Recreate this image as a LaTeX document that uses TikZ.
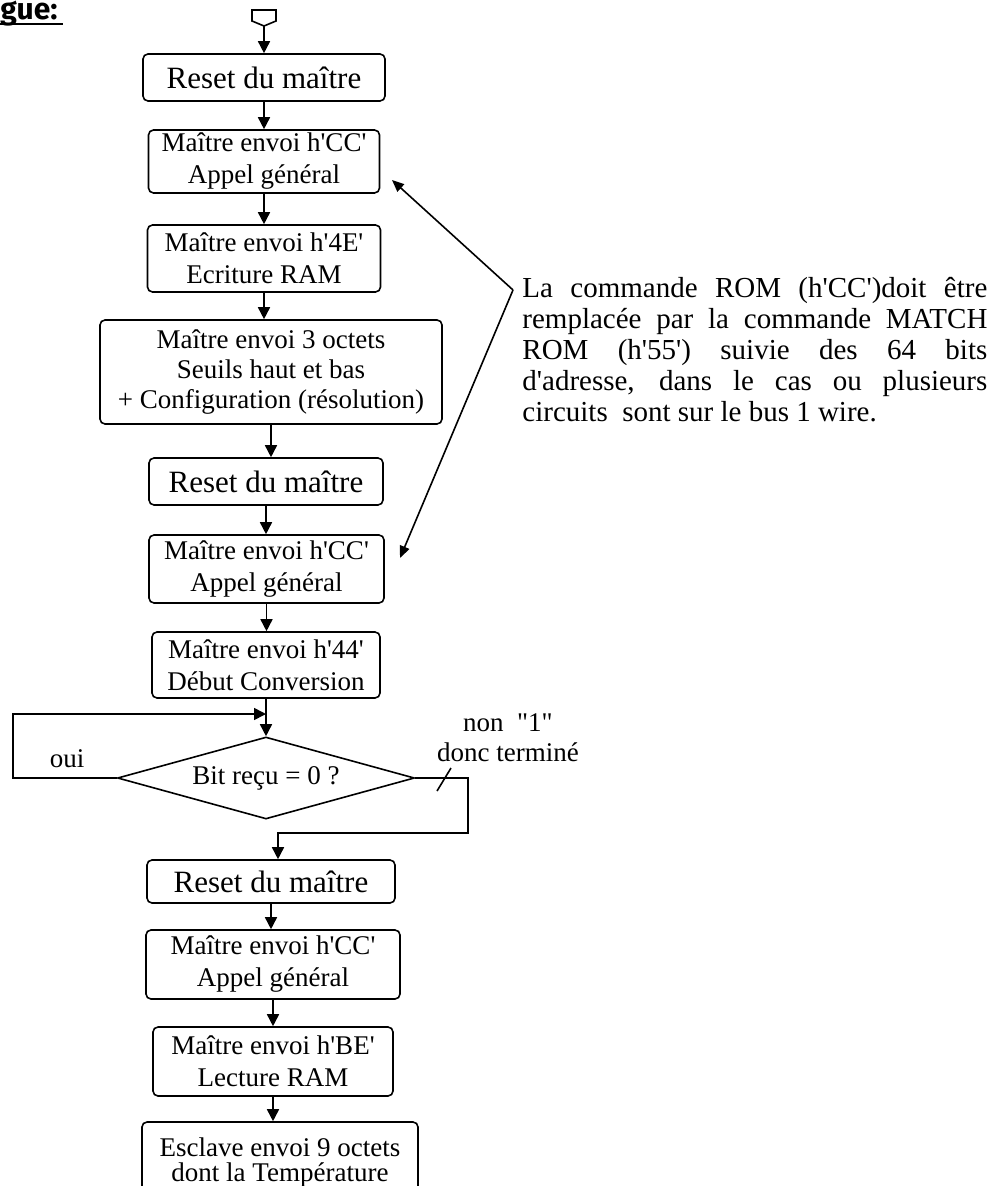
\documentclass[tikz,border=0pt]{standalone}
\usepackage{fontspec}
\setmainfont{Liberation Serif}[Ligatures=TeXOff]
\newfontfamily\titlefont{Fira Sans}
\usetikzlibrary{shapes.geometric,arrows.meta}

\begin{document}
\begin{tikzpicture}[x=0.5pt,y=-0.5pt]
        \useasboundingbox (0,0) rectangle (994,1186);
        \clip (0,0) rectangle (994,1186);

        \node[anchor=base west, inner sep=0pt, font=\titlefont\bfseries\fontsize{15}{17}\selectfont] (G) at (0,20) {gue:};
        \draw[line width=1.1pt] (0,24) -- (63,24);

        % depart
        \draw[line width=0.8pt] (252,10) -- (276,10) -- (276,21) -- (264,26) -- (252,21) -- cycle;
        \coordinate (S) at (264,26);

        \begin{scope}[every node/.style={draw, line width=0.8pt, rounded corners=2.5pt, align=center, inner sep=1pt, font=\fontsize{13.5}{16}\selectfont}]
                \node[minimum width=121pt, minimum height=23.5pt, font=\fontsize{15.5}{18}\selectfont] (R1) at (264,77.5) {Reset du maître};
                \node[minimum width=115.5pt, minimum height=31.5pt] (C1) at (264,161.5) {Maître envoi h'CC'\\Appel général};
                \node[minimum width=116.5pt, minimum height=33.5pt] (W1) at (264,258.5) {Maître envoi h'4E'\\Ecriture RAM};
                \node[minimum width=171pt, minimum height=52pt, font=\fontsize{13.5}{15}\selectfont] (O1) at (271,372) {Maître envoi 3 octets\\Seuils haut et bas\\+ Configuration (résolution)};
                \node[minimum width=117pt, minimum height=23.5pt, font=\fontsize{15.5}{18}\selectfont] (R2) at (266,481.5) {Reset du maître};
                \node[minimum width=117.5pt, minimum height=34pt] (C2) at (266.5,569) {Maître envoi h'CC'\\Appel général};
                \node[minimum width=114pt, minimum height=33pt] (D1) at (266,665) {Maître envoi h'44'\\Début Conversion};
                \node[diamond, aspect=3.6, sharp corners, inner sep=0pt, minimum width=148.5pt, minimum height=41pt] (B) at (266,778) {Bit reçu = 0 ?};
                \node[minimum width=124pt, minimum height=21.5pt, font=\fontsize{15.5}{18}\selectfont] (R3) at (271,881.5) {Reset du maître};
                \node[minimum width=127pt, minimum height=34.5pt] (C3) at (273,964.5) {Maître envoi h'CC'\\Appel général};
                \node[minimum width=120pt, minimum height=34.5pt] (L1) at (273,1061.5) {Maître envoi h'BE'\\Lecture RAM};
                \node[minimum width=138pt, minimum height=40pt, font=\fontsize{13.5}{12.5}\selectfont] (E1) at (280,1162) {Esclave envoi 9 octets\\dont la Température};
        \end{scope}

        \begin{scope}[every node/.style={inner sep=0pt, font=\fontsize{13.5}{15}\selectfont}]
                \node (oui) at (67,759) {oui};
                \node[align=center] (non) at (508,738) {non\ \ "1"\\donc terminé};
                \node[anchor=north west, text width=232.5pt, align=justify, font=\fontsize{14.5}{15.5}\selectfont] (N) at (522,277)
                        {La commande ROM (h'CC')doit être\linebreak
                         remplacée par la commande MATCH\linebreak
                         ROM (h'55') suivie des 64 bits\linebreak
                         d'adresse, dans le cas ou plusieurs\linebreak
                         circuits\ \ sont sur le bus 1 wire.};
        \end{scope}

        \coordinate (A) at (513,290);
        \coordinate (T1) at (392,180);
        \coordinate (T2) at (400,558);
        \coordinate (L) at (13,714);
        \coordinate (N1) at (468,833);
        \coordinate (N2) at (278,833);

        \begin{scope}[every path/.style={line width=0.8pt, ->, >={Triangle[length=6pt,width=6pt]}}]
                \draw (S) -- (S |- R1.north);
                \draw (R1) -- (R1 |- C1.north);
                \draw (C1) -- (C1 |- W1.north);
                \draw (W1) -- (W1 |- O1.north);
                \draw (O1) -- (O1 |- R2.north);
                \draw (R2) -- (R2 |- C2.north);
                \draw (C2) -- (C2 |- D1.north);
                \draw (D1) -- (B);
                \draw (B.west) -| (L) -- (D1 |- L);
                \draw (B.east) -| (N1) -- (N2) -- (N2 |- R3.north);
                \draw (R3) -- (R3 |- C3.north);
                \draw (C3) -- (C3 |- L1.north);
                \draw (L1) -- (L1 |- E1.north);
        \end{scope}

        \begin{scope}[every path/.style={line width=0.8pt, ->, >={Triangle[length=6pt,width=5pt]}}]
                \draw (A) -- (T1);
                \draw (A) -- (T2);
        \end{scope}

        % trait "non"
        \draw[line width=0.8pt] (437,791) -- (451,768);
\end{tikzpicture}
\end{document}
